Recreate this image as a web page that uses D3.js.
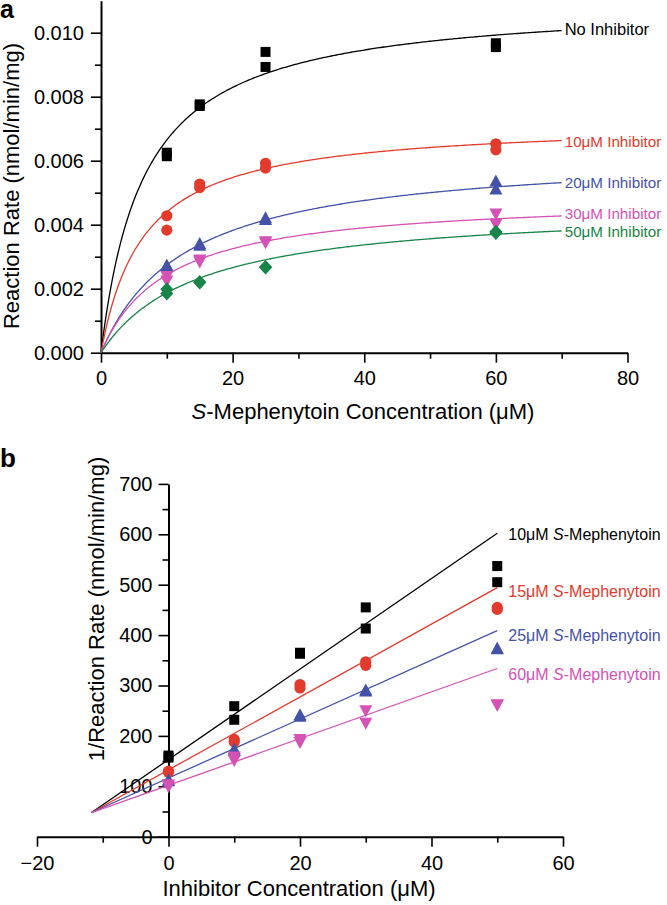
<!DOCTYPE html>
<html><head><meta charset="utf-8">
<script src="https://cdn.jsdelivr.net/npm/d3@7"></script>
<style>
body{margin:0;background:#fff}
svg{display:block}
text{font-family:Arial,"Liberation Sans",Helvetica,sans-serif;fill:#000}
</style>
</head><body>
<svg id="c" width="667" height="905"></svg>
<script>
// ---------- Panel a data ----------
const substrateConc = [10, 15, 25, 60];
const seriesA = ["No Inhibitor", "10μM Inhibitor", "20μM Inhibitor", "30μM Inhibitor", "50μM Inhibitor"];
const rateNoInhibitor = [[0.00625, 0.00614], [0.00776, 0.00771], [0.00940, 0.00893], [0.00967, 0.00955]];
const rate10uM = [[0.00428, 0.00383], [0.00527, 0.00516], [0.00592, 0.00577], [0.00653, 0.00634]];
const rate20uM = [[0.00272, 0.00270], [0.00340, 0.00334], [0.00420, 0.00415], [0.00535, 0.00510]];
const rate30uM = [[0.00240, 0.00226], [0.00291, 0.00285], [0.00348, 0.00345], [0.00435, 0.00403]];
const rate50uM = [[0.00198, 0.00185], [0.00221, 0.00219], [0.00268, 0.00266], [0.00378, 0.00374]];
// Michaelis-Menten fit parameters
const fitVmax = [0.01101, 0.00724, 0.00630, 0.00489, 0.00460];
const fitKm = [6.56, 6.45, 12.98, 10.1, 14.6];
const fitRangeA = [0, 70];
const xTicksA = [0, 20, 40, 60, 80];
const yTicksA = [0, 0.002, 0.004, 0.006, 0.008, 0.010];

// ---------- Panel b data ----------
const inhibitorConc = [0, 10, 20, 30, 50];
const seriesB = ["10μM", "15μM", "25μM", "60μM"];
const invRate10 = [[161, 157], [259, 232], [365, 363], [455, 413], [537, 505]];
const invRate15 = [[130, 128], [193, 188], [302, 295], [347, 340], [455, 451]];
const invRate25 = [[112, 110], [173, 170], [241, 238], [290, 288], [373, 372]];
const invRate60 = [[104, 100], [159, 152], [194, 188], [251, 226], [263, 262]];
const fitIntercept = [153, 132.6, 116.5, 102];
const fitSlope = [8.98, 7.23, 5.85, 4.635];
const fitRangeB = [-11.7, 50];
const xTicksB = [-20, 0, 20, 40, 60];
const yTicksB = [0, 100, 200, 300, 400, 500, 600, 700];

// ---------- styling ----------
const colors = ["#000000", "#e23a2c", "#4452a8", "#d452b4", "#178448"];
const colorsB = ["#000000", "#e23a2c", "#4452a8", "#d452b4"];
const shapesA = ["square", "circle", "up", "down", "diamond"];
const shapesB = ["square", "circle", "up", "down"];

function markerPath(shape) {
  switch (shape) {
    case "square": return "M-5,-5H5V5H-5Z";
    case "circle": return "M-5.6,0A5.6,5.6 0 1,0 5.6,0A5.6,5.6 0 1,0 -5.6,0Z";
    case "up": return "M0,-7L6.5,5L-6.5,5Z";
    case "down": return "M0,7L6.5,-5L-6.5,-5Z";
    case "diamond": return "M0,-7L6.5,0L0,7L-6.5,0Z";
  }
}

const svg = d3.select("#c");

function styleAxis(g) {
  g.select(".domain").attr("stroke", "#000").attr("stroke-width", 2);
  g.selectAll(".tick line").attr("stroke", "#000").attr("stroke-width", 1.6);
  g.selectAll(".tick text").attr("font-size", 20).attr("font-family", "Arial, 'Liberation Sans', sans-serif").attr("fill", "#000");
}
function minorStyle(g) {
  g.select(".domain").remove();
  g.selectAll(".tick line").attr("stroke", "#000").attr("stroke-width", 1.6);
}

// ================= Panel a =================
const xA = d3.scaleLinear().domain([0, 80]).range([101, 627.5]);
const yA = d3.scaleLinear().domain([0, 0.011]).range([352.7, 0.7]);

const gA = svg.append("g");
gA.append("g").attr("transform", `translate(0,${yA(0)})`)
  .call(d3.axisBottom(xA).tickValues([10, 30, 50, 70]).tickSize(6).tickSizeOuter(0).tickFormat(""))
  .call(minorStyle);
gA.append("g").attr("transform", `translate(${xA(0)},0)`)
  .call(d3.axisLeft(yA).tickValues([0.001, 0.003, 0.005, 0.007, 0.009]).tickSize(6).tickSizeOuter(0).tickFormat(""))
  .call(minorStyle);
gA.append("g").attr("transform", `translate(0,${yA(0)})`)
  .call(d3.axisBottom(xA).tickValues(xTicksA).tickSize(10).tickSizeOuter(0).tickPadding(8).tickFormat(d3.format("d")))
  .call(styleAxis);
gA.append("g").attr("transform", `translate(${xA(0)},0)`)
  .call(d3.axisLeft(yA).tickValues(yTicksA).tickSize(10).tickSizeOuter(0).tickPadding(7).tickFormat(d3.format(".3f")))
  .call(styleAxis);

const ratesA = [rateNoInhibitor, rate10uM, rate20uM, rate30uM, rate50uM];
const sSamples = d3.range(fitRangeA[0], fitRangeA[1] + 0.001, 0.25);
ratesA.forEach((rates, i) => {
  const line = d3.line().x(s => xA(s)).y(s => yA(fitVmax[i] * s / (fitKm[i] + s)));
  gA.append("path").attr("d", line(sSamples)).attr("fill", "none")
    .attr("stroke", colors[i]).attr("stroke-width", 1.3);
});
ratesA.forEach((rates, i) => {
  rates.forEach((pair, j) => {
    pair.forEach(v => {
      gA.append("path").attr("d", markerPath(shapesA[i]))
        .attr("transform", `translate(${xA(substrateConc[j])},${yA(v)})`)
        .attr("fill", colors[i]);
    });
  });
});
const labelDyA = [0.5, 2, 1, -1, 1.8];
seriesA.forEach((name, i) => {
  const s = fitRangeA[1];
  gA.append("text").attr("x", xA(s) + 3).attr("y", yA(fitVmax[i] * s / (fitKm[i] + s)) + labelDyA[i])
    .attr("dominant-baseline", "middle").attr("font-size", i === 0 ? 16.5 : 15.2)
    .style("fill", colors[i]).text(name);
});
const tA = gA.append("text").attr("x", 363).attr("y", 419).attr("text-anchor", "middle").attr("font-size", 22);
tA.append("tspan").attr("font-style", "italic").text("S");
tA.append("tspan").text("-Mephenytoin Concentration (μM)");
gA.append("text").attr("transform", "translate(19,186) rotate(-90)").attr("text-anchor", "middle")
  .attr("font-size", 22).text("Reaction Rate (nmol/min/mg)");
svg.append("text").attr("x", 0).attr("y", 18).attr("font-size", 25).attr("font-weight", "bold").text("a");

// ================= Panel b =================
const xB = d3.scaleLinear().domain([-20, 60]).range([37, 563]);
const yB = d3.scaleLinear().domain([0, 700]).range([836.7, 483.9]);
const gB = svg.append("g");
gB.append("g").attr("transform", `translate(0,${yB(0)})`)
  .call(d3.axisBottom(xB).tickValues([-10, 10, 30, 50]).tickSize(6).tickSizeOuter(0).tickFormat(""))
  .call(minorStyle);
gB.append("g").attr("transform", `translate(${xB(0)},0)`)
  .call(d3.axisLeft(yB).tickValues([50, 150, 250, 350, 450, 550, 650]).tickSize(6).tickSizeOuter(0).tickFormat(""))
  .call(minorStyle);
gB.append("g").attr("transform", `translate(0,${yB(0)})`)
  .call(d3.axisBottom(xB).tickValues(xTicksB).tickSize(10).tickSizeOuter(0).tickPadding(9).tickFormat(d3.format("d")))
  .call(styleAxis);
gB.append("g").attr("transform", `translate(${xB(0)},0)`)
  .call(d3.axisLeft(yB).tickValues(yTicksB).tickSize(10).tickSizeOuter(0).tickPadding(6).tickFormat(d3.format("d")))
  .call(styleAxis);

const ratesB = [invRate10, invRate15, invRate25, invRate60];
ratesB.forEach((rates, i) => {
  const line = d3.line().x(x => xB(x)).y(x => yB(fitIntercept[i] + fitSlope[i] * x));
  gB.append("path").attr("d", line(fitRangeB)).attr("fill", "none")
    .attr("stroke", colorsB[i]).attr("stroke-width", 1.3);
});
ratesB.forEach((rates, i) => {
  rates.forEach((pair, j) => {
    pair.forEach(v => {
      gB.append("path").attr("d", markerPath(shapesB[i]))
        .attr("transform", `translate(${xB(inhibitorConc[j])},${yB(v)})`)
        .attr("fill", colorsB[i]);
    });
  });
});
const labelDy = [3, 5, 6, 8];
seriesB.forEach((name, i) => {
  const xe = fitRangeB[1];
  const t = gB.append("text").attr("x", xB(xe) + 11).attr("y", yB(fitIntercept[i] + fitSlope[i] * xe) + labelDy[i])
    .attr("dominant-baseline", "middle").attr("font-size", 16).style("fill", colorsB[i]);
  t.append("tspan").text(name + " ");
  t.append("tspan").attr("font-style", "italic").text("S");
  t.append("tspan").text("-Mephenytoin");
});
gB.append("text").attr("x", 299).attr("y", 896).attr("text-anchor", "middle").attr("font-size", 22)
  .text("Inhibitor Concentration (μM)");
gB.append("text").attr("transform", "translate(104,609) rotate(-90)").attr("text-anchor", "middle")
  .attr("font-size", 22).text("1/Reaction Rate (nmol/min/mg)");
svg.append("text").attr("x", 0).attr("y", 467).attr("font-size", 26).attr("font-weight", "bold").text("b");
</script>
</body></html>
